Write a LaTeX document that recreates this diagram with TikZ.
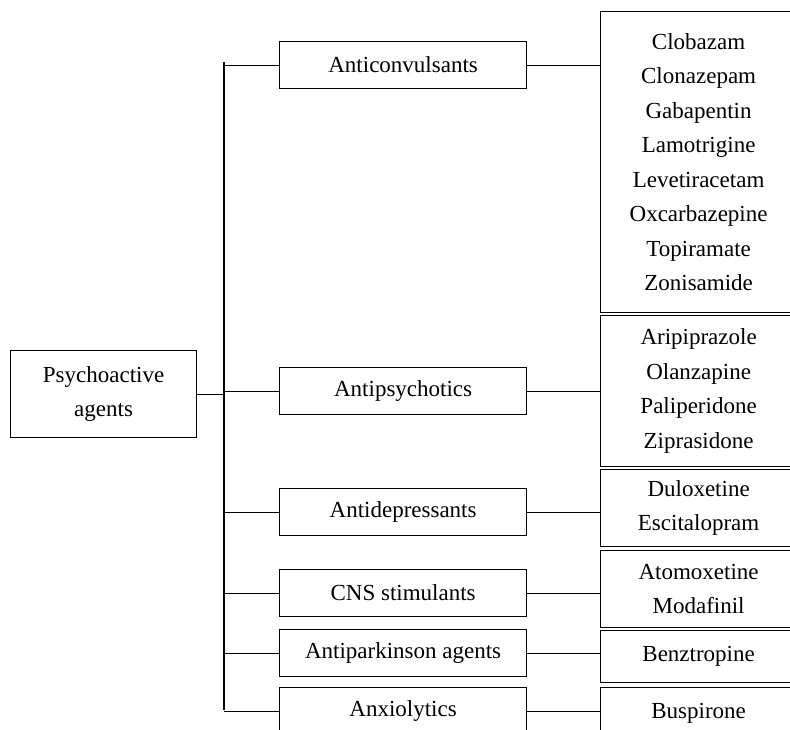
\documentclass[tikz,border=0pt]{standalone}
\usepackage{fontspec}
\setmainfont{Liberation Serif}
\tikzset{
      box/.style={draw=black, line width=0.6pt, anchor=north west, inner sep=0pt,
            align=center, font=\fontsize{11.5}{17.25}\selectfont},
      rootbox/.style={box, minimum width=93pt, minimum height=43.5pt},
      classbox/.style={box, minimum width=123.5pt, minimum height=23.5pt},
      drugbox/.style={box, minimum width=98pt},
      link/.style={draw=black, line width=0.6pt},
}
\begin{document}
\begin{tikzpicture}[x=0.5pt, y=-0.5pt]
        \clip (0,0) rectangle (790,729);

        % Root
        \node[rootbox] (psy) at (10,350) {Psychoactive\\agents};

        % Drug classes
        \node[classbox] (conv)  at (279,41)  {Anticonvulsants};
        \node[classbox] (psyc)  at (279,367) {Antipsychotics};
        \node[classbox] (depr)  at (279,488) {Antidepressants};
        \node[classbox] (stim)  at (279,569) {CNS stimulants};
        \node[classbox] (park)  at (279,629) {Antiparkinson agents};
        \node[classbox] (anxi)  at (279,687) {Anxiolytics};

        % Drugs
        \node[drugbox, minimum height=150.5pt] (dconv) at (600,11)
              {Clobazam\\Clonazepam\\Gabapentin\\Lamotrigine\\Levetiracetam\\Oxcarbazepine\\Topiramate\\Zonisamide};
        \node[drugbox, minimum height=75.5pt] (dpsyc) at (600,315)
              {Aripiprazole\\Olanzapine\\Paliperidone\\Ziprasidone};
        \node[drugbox, minimum height=38.5pt] (ddepr) at (600,469) {Duloxetine\\Escitalopram};
        \node[drugbox, minimum height=38.5pt] (dstim) at (600,550) {Atomoxetine\\Modafinil};
        \node[drugbox, minimum height=26pt] (dpark) at (600,630) {Benztropine};
        \node[drugbox, minimum height=26pt] (danxi) at (600,687) {Buspirone};

        % Tree
        \coordinate (trunktop) at (224,62);
        \coordinate (trunkbot) at (224,710);
        \draw[link] (trunktop) -- (trunkbot);
        \draw[link] (psy.east) -- (psy.east -| trunktop);

        \foreach \cls/\drug in {conv/dconv, psyc/dpsyc, depr/ddepr, stim/dstim, park/dpark, anxi/danxi} {
              \draw[link] (trunktop |- \cls.west) -- (\cls.west);
              \draw[link] (\cls.east) -- (\cls.east -| \drug.west);
        }

    \end{tikzpicture}
\end{document}
